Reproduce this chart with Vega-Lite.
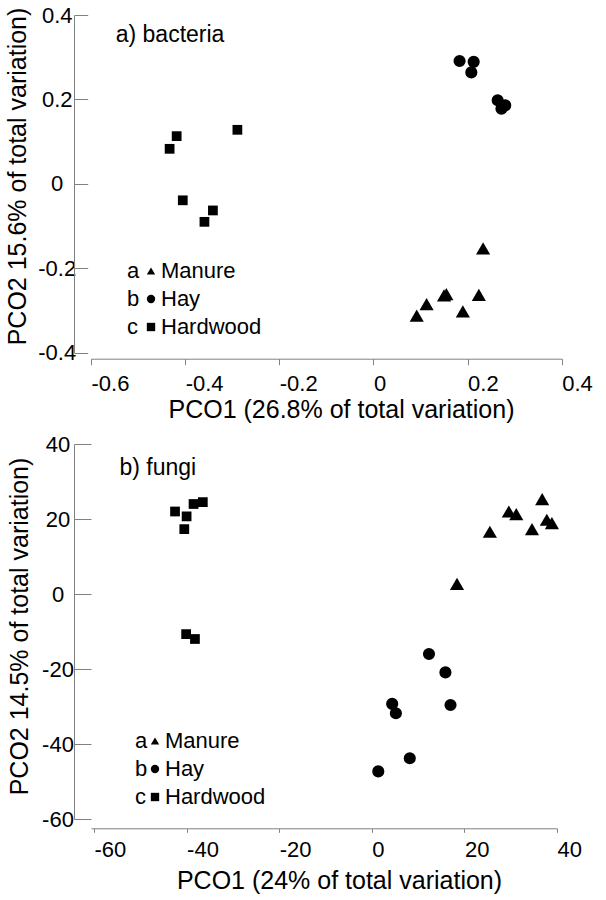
{
  "$schema": "https://vega.github.io/schema/vega-lite/v6.json",
  "background": "white",
  "padding": {"left": 5, "top": 4, "right": 0, "bottom": 0},
  "spacing": 10,
  "config": {
    "view": {"stroke": null},
    "font": "Liberation Sans",
    "mark": {"color": "black"},
    "axis": {
      "grid": false,
      "domainColor": "#808080",
      "tickColor": "#808080",
      "labelColor": "black",
      "titleColor": "black",
      "labelFont": "Liberation Sans",
      "titleFont": "Liberation Sans",
      "labelFontSize": 22,
      "titleFontSize": 25,
      "titleFontWeight": "normal",
      "labelOverlap": false,
      "labelBound": false,
      "labelFlush": false
    },
    "legend": {
      "labelFont": "Liberation Sans",
      "labelFontSize": 22,
      "labelColor": "black",
      "padding": 0
    }
  },
  "datasets": {
    "bacteria": [
      {"PCO1": -0.433, "PCO2": 0.083, "Treatment": "Hardwood", "Letter": "c"},
      {"PCO1": -0.418, "PCO2": 0.113, "Treatment": "Hardwood", "Letter": "c"},
      {"PCO1": -0.289, "PCO2": 0.128, "Treatment": "Hardwood", "Letter": "c"},
      {"PCO1": -0.405, "PCO2": -0.039, "Treatment": "Hardwood", "Letter": "c"},
      {"PCO1": -0.341, "PCO2": -0.063, "Treatment": "Hardwood", "Letter": "c"},
      {"PCO1": -0.359, "PCO2": -0.090, "Treatment": "Hardwood", "Letter": "c"},
      {"PCO1": 0.183, "PCO2": 0.291, "Treatment": "Hay", "Letter": "b"},
      {"PCO1": 0.213, "PCO2": 0.289, "Treatment": "Hay", "Letter": "b"},
      {"PCO1": 0.208, "PCO2": 0.264, "Treatment": "Hay", "Letter": "b"},
      {"PCO1": 0.264, "PCO2": 0.198, "Treatment": "Hay", "Letter": "b"},
      {"PCO1": 0.280, "PCO2": 0.186, "Treatment": "Hay", "Letter": "b"},
      {"PCO1": 0.272, "PCO2": 0.178, "Treatment": "Hay", "Letter": "b"},
      {"PCO1": 0.233, "PCO2": -0.153, "Treatment": "Manure", "Letter": "a"},
      {"PCO1": 0.155, "PCO2": -0.261, "Treatment": "Manure", "Letter": "a"},
      {"PCO1": 0.150, "PCO2": -0.264, "Treatment": "Manure", "Letter": "a"},
      {"PCO1": 0.224, "PCO2": -0.263, "Treatment": "Manure", "Letter": "a"},
      {"PCO1": 0.113, "PCO2": -0.285, "Treatment": "Manure", "Letter": "a"},
      {"PCO1": 0.190, "PCO2": -0.302, "Treatment": "Manure", "Letter": "a"},
      {"PCO1": 0.092, "PCO2": -0.312, "Treatment": "Manure", "Letter": "a"}
    ],
    "fungi": [
      {"PCO1": -42.5, "PCO2": 22.0, "Treatment": "Hardwood", "Letter": "c"},
      {"PCO1": -40.0, "PCO2": 20.7, "Treatment": "Hardwood", "Letter": "c"},
      {"PCO1": -40.5, "PCO2": 17.3, "Treatment": "Hardwood", "Letter": "c"},
      {"PCO1": -38.5, "PCO2": 24.0, "Treatment": "Hardwood", "Letter": "c"},
      {"PCO1": -36.5, "PCO2": 24.5, "Treatment": "Hardwood", "Letter": "c"},
      {"PCO1": -40.1, "PCO2": -10.7, "Treatment": "Hardwood", "Letter": "c"},
      {"PCO1": -38.2, "PCO2": -12.0, "Treatment": "Hardwood", "Letter": "c"},
      {"PCO1": 12.35, "PCO2": -16.0, "Treatment": "Hay", "Letter": "b"},
      {"PCO1": 15.9, "PCO2": -20.9, "Treatment": "Hay", "Letter": "b"},
      {"PCO1": 4.4, "PCO2": -29.3, "Treatment": "Hay", "Letter": "b"},
      {"PCO1": 5.2, "PCO2": -31.8, "Treatment": "Hay", "Letter": "b"},
      {"PCO1": 17.0, "PCO2": -29.6, "Treatment": "Hay", "Letter": "b"},
      {"PCO1": 8.2, "PCO2": -43.8, "Treatment": "Hay", "Letter": "b"},
      {"PCO1": 1.4, "PCO2": -47.3, "Treatment": "Hay", "Letter": "b"},
      {"PCO1": 36.8, "PCO2": 25.3, "Treatment": "Manure", "Letter": "a"},
      {"PCO1": 29.6, "PCO2": 22.0, "Treatment": "Manure", "Letter": "a"},
      {"PCO1": 31.2, "PCO2": 21.3, "Treatment": "Manure", "Letter": "a"},
      {"PCO1": 37.8, "PCO2": 19.8, "Treatment": "Manure", "Letter": "a"},
      {"PCO1": 38.9, "PCO2": 18.9, "Treatment": "Manure", "Letter": "a"},
      {"PCO1": 25.5, "PCO2": 16.6, "Treatment": "Manure", "Letter": "a"},
      {"PCO1": 34.6, "PCO2": 17.3, "Treatment": "Manure", "Letter": "a"},
      {"PCO1": 18.4, "PCO2": 2.7, "Treatment": "Manure", "Letter": "a"}
    ]
  },
  "resolve": {
    "scale": {"x": "independent", "y": "independent", "shape": "independent", "color": "independent", "size": "independent"},
    "legend": {"shape": "independent", "color": "independent", "size": "independent"},
    "axis": {"x": "independent", "y": "independent"}
  },
  "vconcat": [
    {
      "width": 470.7,
      "height": 337.7,
      "layer": [
        {
          "data": {"name": "bacteria"},
          "mark": {"type": "point", "filled": true, "opacity": 1, "strokeWidth": 0},
          "encoding": {
            "x": {
              "field": "PCO1", "type": "quantitative",
              "scale": {"domain": [-0.6, 0.4], "nice": false, "zero": false},
              "axis": {
                "title": "PCO1 (26.8% of total variation)",
                "values": [-0.6, -0.4, -0.2, 0, 0.2, 0.4],
                "labelExpr": "datum.value < 0 ? '-' + format(-datum.value, '~g') : format(datum.value, '~g')",
                "offset": 6, "tickSize": 6, "labelAlign": "left", "labelDx": -5, "labelPadding": 9,
                "titlePadding": 3, "titleX": 250
              }
            },
            "y": {
              "field": "PCO2", "type": "quantitative",
              "scale": {"domain": [-0.4, 0.4], "nice": false, "zero": false},
              "axis": {
                "title": "PCO2 15.6% of total variation)",
                "values": [-0.4, -0.2, 0, 0.2, 0.4],
                "labelExpr": "datum.value < 0 ? '-' + format(-datum.value, '~g') : format(datum.value, '~g')",
                "offset": 17, "tickSize": -13.7, "labelAlign": "center", "labelPadding": 31,
                "titlePadding": 7, "titleY": 161
              }
            },
            "shape": {
              "field": "Treatment", "type": "nominal",
              "scale": {"domain": ["Manure", "Hay", "Hardwood"], "range": ["triangle-up", "circle", "square"]},
              "legend": {"orient": "none", "legendX": 49, "legendY": 245, "title": null, "symbolSize": 70, "symbolFillColor": "black", "symbolStrokeColor": "black", "symbolStrokeWidth": 0, "labelOffset": -1, "rowPadding": 6, "labelBaseline": "middle"}
            },
            "color": {
              "field": "Letter", "type": "nominal",
              "scale": {"domain": ["a", "b", "c"], "range": ["black", "black", "black"]},
              "legend": {"orient": "none", "legendX": 14, "legendY": 245, "title": null, "symbolSize": 0, "symbolOpacity": 0, "symbolStrokeWidth": 0, "labelOffset": 0, "rowPadding": 6, "labelBaseline": "middle"}
            },
            "size": {
              "field": "Letter", "type": "nominal",
              "scale": {"domain": ["a", "b", "c"], "range": [200, 95, 110]},
              "legend": {"orient": "none", "legendX": 14, "legendY": 245, "title": null, "symbolSize": 0, "symbolOpacity": 0, "symbolStrokeWidth": 0, "labelOffset": 0, "rowPadding": 6, "labelBaseline": "middle"}
            }
          }
        },
        {
          "data": {"values": [{"label": "a) bacteria"}]},
          "mark": {"type": "text", "align": "left", "baseline": "alphabetic", "fontSize": 23, "font": "Liberation Sans", "color": "black"},
          "encoding": {
            "text": {"field": "label"},
            "x": {"datum": -0.5475},
            "y": {"datum": 0.336}
          }
        }
      ]
    },
    {
      "width": 466,
      "height": 375,
      "layer": [
        {
          "data": {"name": "fungi"},
          "mark": {"type": "point", "filled": true, "opacity": 1, "strokeWidth": 0},
          "encoding": {
            "x": {
              "field": "PCO1", "type": "quantitative",
              "scale": {"domain": [-60.65, 40], "nice": false, "zero": false},
              "axis": {
                "title": "PCO1 (24% of total variation)",
                "values": [-60, -40, -20, 0, 20, 40],
                "labelExpr": "datum.value < 0 ? '-' + format(-datum.value, '~g') : format(datum.value, '~g')",
                "offset": 9.3, "tickSize": 4, "labelAlign": "left", "labelDx": -5, "labelPadding": 7,
                "titlePadding": 8, "titleX": 248
              }
            },
            "y": {
              "field": "PCO2", "type": "quantitative",
              "scale": {"domain": [-60, 40], "nice": false, "zero": false},
              "axis": {
                "title": "PCO2 14.5% of total variation)",
                "values": [-60, -40, -20, 0, 20, 40],
                "labelExpr": "datum.value < 0 ? '-' + format(-datum.value, '~g') : format(datum.value, '~g')",
                "offset": 17, "tickSize": -17, "labelAlign": "center", "labelPadding": 33.5,
                "titlePadding": 9, "titleY": 182
              }
            },
            "shape": {
              "field": "Treatment", "type": "nominal",
              "scale": {"domain": ["Manure", "Hay", "Hardwood"], "range": ["triangle-up", "circle", "square"]},
              "legend": {"orient": "none", "legendX": 53, "legendY": 286, "title": null, "symbolSize": 70, "symbolFillColor": "black", "symbolStrokeColor": "black", "symbolStrokeWidth": 0, "labelOffset": -1, "rowPadding": 6, "labelBaseline": "middle"}
            },
            "color": {
              "field": "Letter", "type": "nominal",
              "scale": {"domain": ["a", "b", "c"], "range": ["black", "black", "black"]},
              "legend": {"orient": "none", "legendX": 22, "legendY": 286, "title": null, "symbolSize": 0, "symbolOpacity": 0, "symbolStrokeWidth": 0, "labelOffset": 0, "rowPadding": 6, "labelBaseline": "middle"}
            },
            "size": {
              "field": "Letter", "type": "nominal",
              "scale": {"domain": ["a", "b", "c"], "range": [200, 95, 110]},
              "legend": {"orient": "none", "legendX": 22, "legendY": 286, "title": null, "symbolSize": 0, "symbolOpacity": 0, "symbolStrokeWidth": 0, "labelOffset": 0, "rowPadding": 6, "labelBaseline": "middle"}
            }
          }
        },
        {
          "data": {"values": [{"label": "b) fungi"}]},
          "mark": {"type": "text", "align": "left", "baseline": "alphabetic", "fontSize": 23, "font": "Liberation Sans", "color": "black"},
          "encoding": {
            "text": {"field": "label"},
            "x": {"datum": -54.5},
            "y": {"datum": 31.73}
          }
        }
      ]
    }
  ]
}
